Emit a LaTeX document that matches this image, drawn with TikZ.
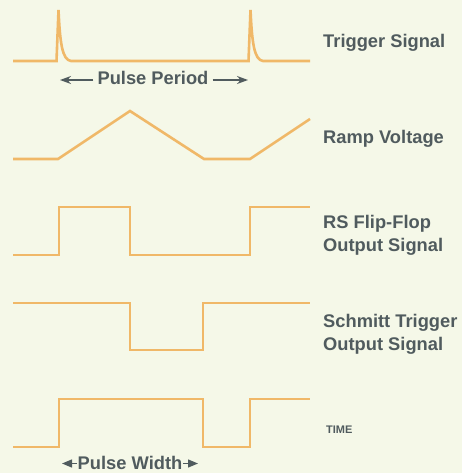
\documentclass[tikz,border=0pt]{standalone}
\usepackage{fontspec}
\setmainfont{Liberation Sans}
\usetikzlibrary{arrows.meta}
\definecolor{bgc}{HTML}{F5F8E8}
\definecolor{wave}{HTML}{F0B868}
\definecolor{txt}{HTML}{505B5E}
\tikzset{
  wf/.style={draw=wave, line width=2.6pt, line join=miter},
  lbl/.style={anchor=base west, inner sep=0pt, text=txt, font=\bfseries\fontsize{18.3}{20}\selectfont},
  dim/.style={anchor=base, inner sep=0pt, text=txt, font=\bfseries\fontsize{18.3}{20}\selectfont},
  dimarrow/.style={draw=txt, line width=1.3pt, -{Stealth[length=11pt,width=8pt]}},
  dimarrowb/.style={draw=txt, line width=1.3pt, -{Triangle[length=10pt,width=8pt]}},
}
\begin{document}
\begin{tikzpicture}[x=1pt,y=-1pt]
\fill[bgc] (0,0) rectangle (462,473);
\useasboundingbox (0,0) rectangle (462,473);

% Trigger signal
\draw[wf] (13,61) -- (56.5,61) -- (58.5,10) .. controls (60,42) and (62,60) .. (71,61) -- (248.5,61) -- (250.5,10) .. controls (252,42) and (254,60) .. (263,61) -- (310,61);
% Ramp voltage
\draw[wf] (13,159) -- (58,159) -- (130,111) -- (204,159) -- (250,159) -- (310,119);
% RS flip-flop
\draw[wf] (13,255) -- (59,255) -- (59,207) -- (130,207) -- (130,255) -- (250,255) -- (250,207) -- (310,207);
% Schmitt trigger
\draw[wf] (13,303) -- (130,303) -- (130,350) -- (203,350) -- (203,303) -- (310,303);
% Output pulse
\draw[wf] (13,447) -- (59,447) -- (59,399) -- (203,399) -- (203,447) -- (250,447) -- (250,399) -- (310,399);

% Labels
\node[lbl] (trig) at (323,48) {Trigger Signal};
\node[lbl] (ramp) at (323,143) {Ramp Voltage};
\node[lbl] (rs1) at (323,228) {RS Flip-Flop};
\node[lbl] (rs2) at (323,251.5) {Output Signal};
\node[lbl] (st1) at (323,327) {Schmitt Trigger};
\node[lbl] (st2) at (323,350.5) {Output Signal};
\node[lbl, font=\bfseries\fontsize{11}{12}\selectfont] (time) at (326,433) {TIME};

% Pulse period
\node[dim, inner xsep=4pt] (pp) at (153,85) {Pulse Period};
\coordinate (ppL) at (60,80);
\coordinate (ppR) at (248,80);
\draw[dimarrow] (pp.west |- ppL) -- (ppL);
\draw[dimarrow] (pp.east |- ppR) -- (ppR);

% Pulse width
\node[dim, inner xsep=0.5pt] (pw) at (130,469) {Pulse Width};
\coordinate (pwL) at (62,463.5);
\coordinate (pwR) at (198,463.5);
\draw[dimarrowb] (pw.west |- pwL) -- (pwL);
\draw[dimarrowb] (pw.east |- pwR) -- (pwR);
\end{tikzpicture}
\end{document}
